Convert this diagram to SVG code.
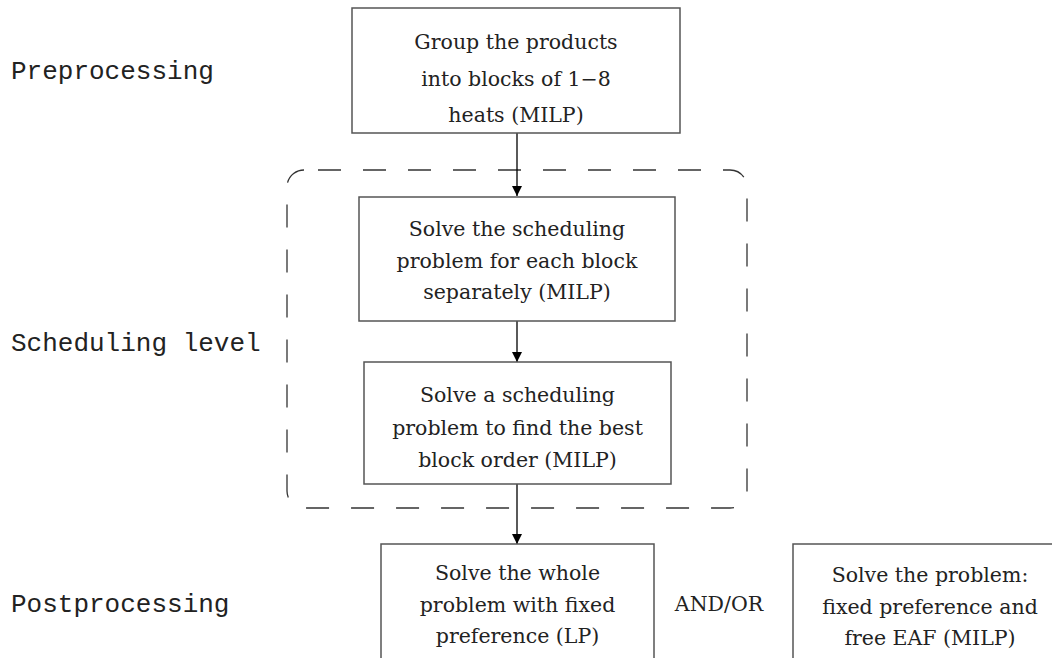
<svg xmlns="http://www.w3.org/2000/svg" width="1052" height="658" viewBox="0 0 1052 658">
<style>
.box{fill:#fff;stroke:#555;stroke-width:1.5}
.t{font-family:"DejaVu Serif",serif;font-size:20.5px;fill:#222;text-anchor:middle}
.lbl{font-family:"Liberation Mono",monospace;font-size:26px;fill:#222}
.conn{stroke:#000;stroke-width:1.3;fill:none}
.dash{fill:none;stroke:#333;stroke-width:1.3;stroke-dasharray:23 22}
</style>
<defs>
<marker id="ah" markerWidth="10" markerHeight="12" refX="10" refY="5" orient="auto" markerUnits="userSpaceOnUse">
<path d="M0,0 L10,5 L0,10 Z" fill="#000"/>
</marker>
</defs>
<rect width="1052" height="658" fill="#fff"/>
<g id="labels">
<text class="lbl" x="11" y="79">Preprocessing</text>
<text class="lbl" x="11" y="351">Scheduling level</text>
<text class="lbl" x="11" y="612">Postprocessing</text>
</g>
<g id="scheduling-group">
<rect class="dash" x="287" y="170" width="460" height="338" rx="17" ry="17" stroke-dashoffset="-14"/>
</g>
<g id="connectors">
<line class="conn" x1="517" y1="133" x2="517" y2="196" marker-end="url(#ah)"/>
<line class="conn" x1="517" y1="321" x2="517" y2="362" marker-end="url(#ah)"/>
<line class="conn" x1="517" y1="484" x2="517" y2="544" marker-end="url(#ah)"/>
</g>
<g id="node-group">
<rect class="box" x="352" y="8" width="328" height="125"/>
<text class="t" x="516" y="49">Group the products</text>
<text class="t" x="516" y="86">into blocks of 1−8</text>
<text class="t" x="516" y="122">heats (MILP)</text>
</g>
<g id="node-solve-each">
<rect class="box" x="359" y="197" width="316" height="124"/>
<text class="t" x="517" y="236">Solve the scheduling</text>
<text class="t" x="517" y="268">problem for each block</text>
<text class="t" x="517" y="299">separately (MILP)</text>
</g>
<g id="node-block-order">
<rect class="box" x="364" y="362" width="307" height="122"/>
<text class="t" x="517.5" y="402">Solve a scheduling</text>
<text class="t" x="517.5" y="435">problem to find the best</text>
<text class="t" x="517.5" y="467">block order (MILP)</text>
</g>
<g id="node-lp">
<rect class="box" x="381" y="544" width="273" height="130"/>
<text class="t" x="517.5" y="580">Solve the whole</text>
<text class="t" x="517.5" y="612">problem with fixed</text>
<text class="t" x="517.5" y="643">preference (LP)</text>
</g>
<g id="andor">
<text class="t" x="719" y="611">AND/OR</text>
</g>
<g id="node-milp">
<rect class="box" x="793" y="544" width="274" height="130"/>
<text class="t" x="930" y="582">Solve the problem:</text>
<text class="t" x="930" y="614">fixed preference and</text>
<text class="t" x="930" y="645">free EAF (MILP)</text>
</g>
</svg>
